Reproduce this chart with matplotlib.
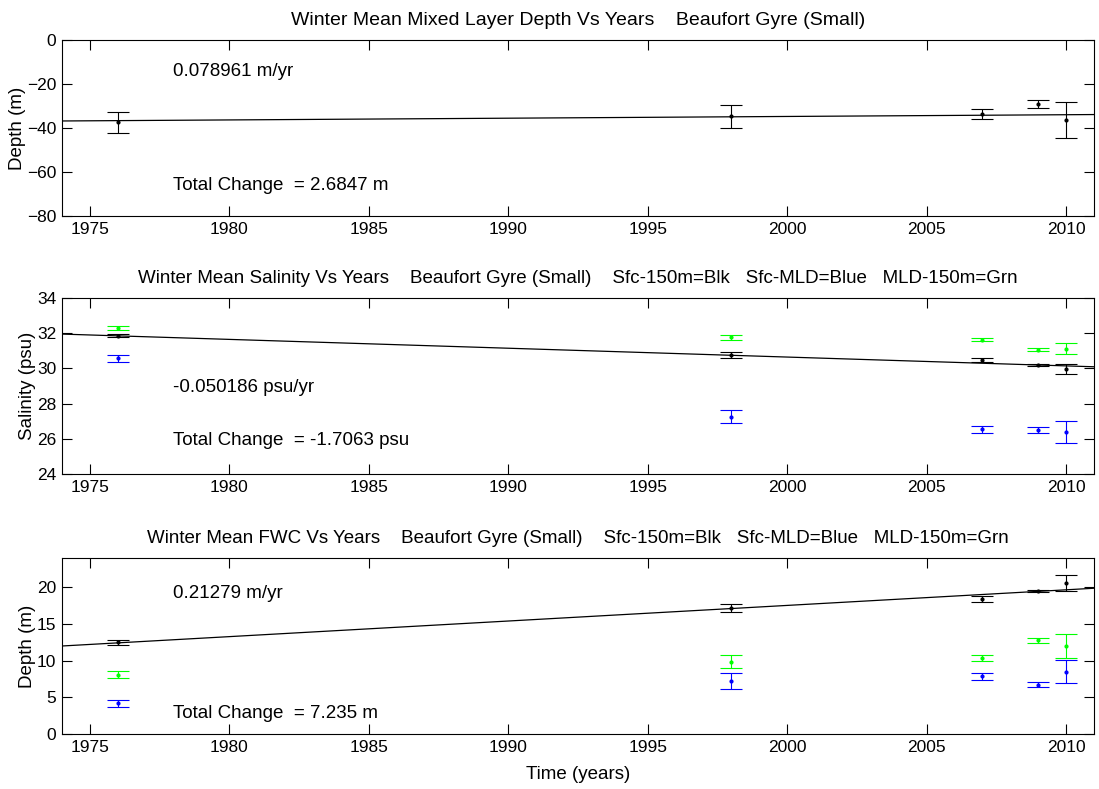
# Winter mean MLD / salinity / FWC vs years, Beaufort Gyre (Small)
import matplotlib
matplotlib.use("Agg")
import matplotlib.pyplot as plt
import numpy as np

plt.rcParams["font.family"] = ["Liberation Sans", "DejaVu Sans"]

years = [1976, 1998, 2007, 2009, 2010]

# mixed layer depth (m)
mld = [-37.4, -34.7, -33.6, -29.1, -36.2]
mld_err = [4.8, 5.2, 2.3, 1.8, 8.2]

# salinity (psu)
sal_blk = [31.86, 30.76, 30.48, 30.19, 29.97]
sal_blk_err = [0.10, 0.17, 0.10, 0.05, 0.26]
sal_blue = [30.59, 27.26, 26.54, 26.50, 26.39]
sal_blue_err = [0.20, 0.37, 0.19, 0.15, 0.65]
sal_grn = [32.28, 31.77, 31.64, 31.07, 31.12]
sal_grn_err = [0.12, 0.13, 0.10, 0.08, 0.31]

# freshwater content (m)
fwc_blk = [12.49, 17.18, 18.36, 19.54, 20.59]
fwc_blk_err = [0.30, 0.60, 0.40, 0.15, 1.05]
fwc_blue = [4.22, 7.22, 7.86, 6.72, 8.50]
fwc_blue_err = [0.48, 1.07, 0.50, 0.36, 1.60]
fwc_grn = [8.09, 9.86, 10.40, 12.77, 12.00]
fwc_grn_err = [0.48, 0.89, 0.40, 0.30, 1.60]

# linear trends (slope per year, value at 1974)
slopes = [0.078961, -0.050186, 0.21279]
start_vals = [-36.8, 31.95, 12.0]
total_change = ["2.6847 m", "-1.7063 psu", "7.235 m"]
rate_text = ["0.078961 m/yr", "-0.050186 psu/yr", "0.21279 m/yr"]

titles = ["Winter Mean Mixed Layer Depth Vs Years    Beaufort Gyre (Small)",
          "Winter Mean Salinity Vs Years    Beaufort Gyre (Small)    Sfc-150m=Blk   Sfc-MLD=Blue   MLD-150m=Grn",
          "Winter Mean FWC Vs Years    Beaufort Gyre (Small)    Sfc-150m=Blk   Sfc-MLD=Blue   MLD-150m=Grn"]
title_sizes = [14, 13.5, 13.5]
ylabels = ["Depth (m)", "Salinity (psu)", "Depth (m)"]
ylims = [(-80, 0), (24, 34), (0, 24)]
yticks = [np.arange(-80, 1, 20), np.arange(24, 35, 2), np.arange(0, 21, 5)]
rate_y = [-14.5, 28.94, 19.1]
total_y = [-66.0, 25.93, 2.77]

fig = plt.figure(figsize=(10.99, 7.89), dpi=100)
bottoms = [0.7262, 0.3992, 0.0697]
axes = [fig.add_axes([0.0564, b, 0.9390, 0.2231]) for b in bottoms]

def ebar(ax, y, e, c):
    ax.errorbar(years, y, yerr=e, fmt=".", color=c, ecolor=c, markersize=4,
                elinewidth=0.8, capsize=8, capthick=0.8)

ebar(axes[0], mld, mld_err, "black")

ebar(axes[1], sal_grn, sal_grn_err, "#00ff00")
ebar(axes[1], sal_blue, sal_blue_err, "blue")
ebar(axes[1], sal_blk, sal_blk_err, "black")

ebar(axes[2], fwc_grn, fwc_grn_err, "#00ff00")
ebar(axes[2], fwc_blue, fwc_blue_err, "blue")
ebar(axes[2], fwc_blk, fwc_blk_err, "black")

xx = np.array([1974, 2011])
for i, ax in enumerate(axes):
    ax.plot(xx, start_vals[i] + slopes[i] * (xx - 1974), color="black", lw=0.9)
    ax.set_xlim(1974, 2011)
    ax.set_ylim(*ylims[i])
    ax.set_xticks(np.arange(1975, 2011, 5))
    ax.set_yticks(yticks[i])
    ax.tick_params(direction="in", length=7.5, width=0.8, labelsize=12.5,
                   top=True, right=True, pad=4)
    for s in ax.spines.values():
        s.set_linewidth(0.8)
    ax.set_title(titles[i], fontsize=title_sizes[i], pad=11)
    ax.set_ylabel(ylabels[i], fontsize=13.5, labelpad=1)
    ax.text(1977.97, rate_y[i], rate_text[i], fontsize=13.5, va="center")
    ax.text(1977.97, total_y[i], "Total Change  = " + total_change[i], fontsize=13.5, va="center")

axes[2].set_xlabel("Time (years)", fontsize=13.5, labelpad=8)

fig.savefig("out.png", dpi=100)
